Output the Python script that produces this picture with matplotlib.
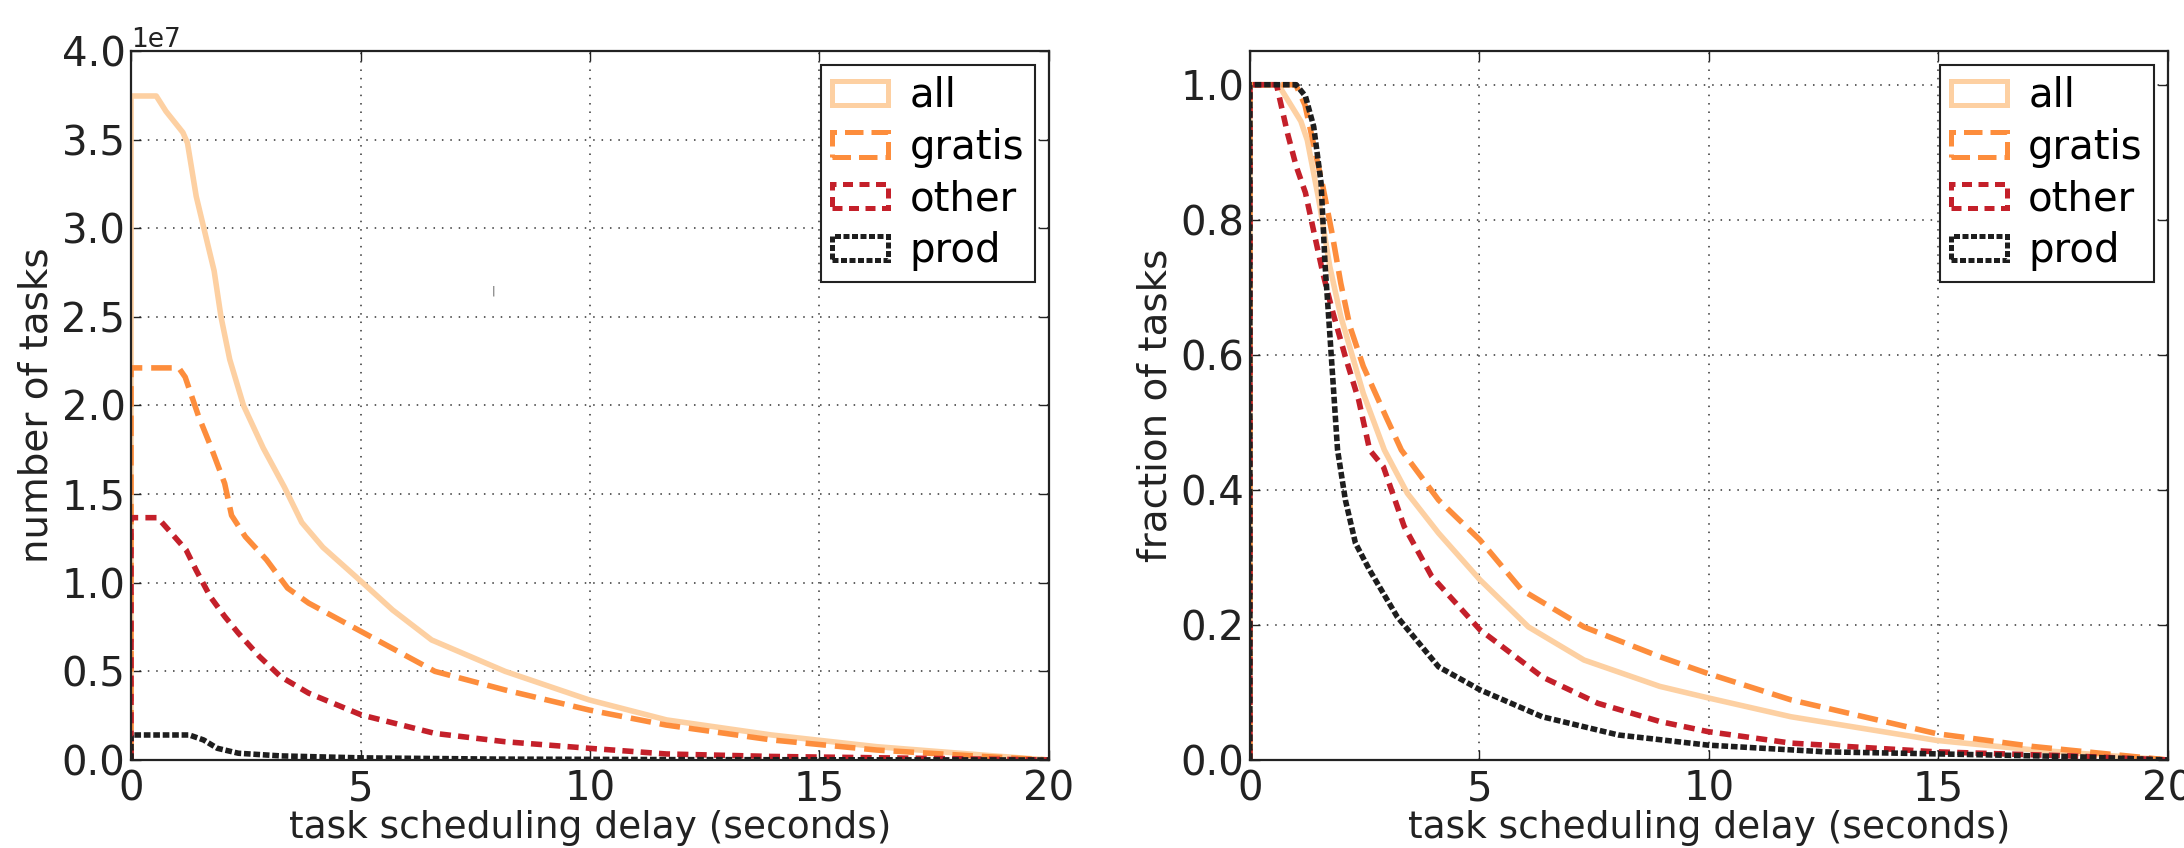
import matplotlib
matplotlib.use("Agg")
import matplotlib.pyplot as plt
from matplotlib.patches import Patch

# series names and styles
names = ["all", "gratis", "other", "prod"]
colors = ["#fdd0a2", "#fd8d3c", "#c4202a", "#1e1e1e"]
dashes = [None, (3.7, 1.6), (2.0, 1.3), (1.2, 0.5)]

# left: number of tasks (x 1e7) vs task scheduling delay (s)
all_x = [0, 0, 0.55, 0.76, 1.13, 1.23, 1.42, 1.67, 1.81, 1.96, 2.15, 2.45, 2.88, 3.34, 3.72,
         4.18, 5.02, 5.70, 6.55, 8.15, 9.98, 11.67, 13.96, 16.25, 18.55, 20]
all_n = [0, 3.746, 3.746, 3.66, 3.54, 3.48, 3.18, 2.91, 2.76, 2.50, 2.26, 2.0, 1.76, 1.54, 1.34,
         1.20, 1.006, 0.846, 0.677, 0.50, 0.339, 0.226, 0.141, 0.075, 0.028, 0]
gratis_x = [0, 0, 1.04, 1.18, 1.47, 1.72, 2.04, 2.19, 2.49, 2.95, 3.41, 3.87, 5.02, 6.62, 8.15,
            9.98, 11.66, 13.96, 16.25, 18.55, 20]
gratis_n = [0, 2.212, 2.212, 2.16, 1.94, 1.78, 1.56, 1.38, 1.26, 1.13, 0.97, 0.885, 0.724, 0.50,
            0.395, 0.282, 0.197, 0.113, 0.056, 0.02, 0]
other_x = [0, 0, 0.58, 0.81, 1.2, 1.42, 1.73, 2.04, 2.34, 2.80, 3.26, 3.87, 5.02, 6.62, 8.15,
           9.98, 11.66, 13.96, 17, 20]
other_n = [0, 1.367, 1.367, 1.30, 1.185, 1.07, 0.92, 0.81, 0.715, 0.583, 0.47, 0.377, 0.254,
           0.15, 0.103, 0.066, 0.034, 0.02, 0.01, 0]
prod_x = [0, 0, 1.27, 1.58, 1.88, 2.34, 3.26, 5.0, 8, 12, 20]
prod_n = [0, 0.141, 0.141, 0.113, 0.066, 0.038, 0.023, 0.012, 0.005, 0.002, 0]

# right: fraction of tasks vs task scheduling delay (s)
all_fx = [0, 0, 0.62, 1.11, 1.25, 1.50, 1.74, 1.98, 2.47, 2.93, 3.43, 4.11, 5.01, 6.07, 7.28,
          8.93, 9.98, 11.79, 14.96, 17.06, 20]
all_f = [0, 1.0, 1.0, 0.946, 0.918, 0.83, 0.731, 0.657, 0.543, 0.459, 0.395, 0.336, 0.267,
         0.197, 0.148, 0.109, 0.092, 0.064, 0.029, 0.015, 0]
gratis_fx = [0, 0, 1.0, 1.2, 1.59, 1.79, 1.98, 2.18, 2.47, 2.96, 3.3, 4.11, 5.01, 5.92, 7.28,
             8.93, 9.98, 11.79, 14.96, 17.06, 20]
gratis_f = [0, 1.0, 1.0, 0.97, 0.849, 0.78, 0.706, 0.642, 0.583, 0.509, 0.459, 0.385, 0.326,
            0.252, 0.197, 0.153, 0.128, 0.089, 0.039, 0.02, 0]
other_fx = [0, 0, 0.58, 0.82, 1.01, 1.21, 1.40, 1.59, 1.79, 2.08, 2.37, 2.61, 2.91, 3.36, 3.96,
            5.01, 6.37, 7.58, 8.93, 9.98, 11.79, 14.96, 17.9, 20]
other_f = [0, 1.0, 1.0, 0.928, 0.879, 0.84, 0.78, 0.721, 0.667, 0.597, 0.533, 0.459, 0.434,
           0.346, 0.272, 0.193, 0.123, 0.084, 0.057, 0.042, 0.025, 0.012, 0.006, 0]
prod_fx = [0, 0, 1.01, 1.21, 1.39, 1.55, 1.64, 1.74, 1.91, 2.08, 2.30, 2.61, 3.21, 4.11, 5.01,
           6.37, 8.03, 9.98, 12.55, 15, 17.9, 20]
prod_f = [0, 1.0, 1.0, 0.983, 0.938, 0.855, 0.731, 0.632, 0.459, 0.385, 0.321, 0.281, 0.212,
          0.138, 0.104, 0.064, 0.037, 0.022, 0.012, 0.009, 0.005, 0]

xticks = [0, 5, 10, 15, 20]
xlabel = "task scheduling delay (seconds)"

plt.rcParams["font.family"] = "DejaVu Sans"

fig = plt.figure(figsize=(21.84, 8.48), dpi=100)
ax1 = fig.add_axes([0.0600, 0.1038, 0.4203, 0.8361])
ax2 = fig.add_axes([0.5723, 0.1038, 0.4203, 0.8361])

left = [(all_x, all_n), (gratis_x, gratis_n), (other_x, other_n), (prod_x, prod_n)]
right = [(all_fx, all_f), (gratis_fx, gratis_f), (other_fx, other_f), (prod_fx, prod_f)]


def draw(ax, series, scale):
    for (x, y), c, d in zip(series, colors, dashes):
        ln, = ax.plot(x, [v * scale for v in y], color=c, lw=4.0, solid_joinstyle="round")
        if d is not None:
            ln.set_dashes(d)
    handles = []
    for c, d, n in zip(colors, dashes, names):
        ls = "-" if d is None else (0, d)
        handles.append(Patch(facecolor="none", edgecolor=c, lw=3.6, linestyle=ls,
                             joinstyle="round", label=n))
    leg = ax.legend(handles=handles, loc="upper right", fontsize=29, fancybox=False,
                    framealpha=1, edgecolor="#222222", borderpad=0.27, labelspacing=0.29,
                    handlelength=1.4, handleheight=0.55, handletextpad=0.52,
                    borderaxespad=0.35)
    leg.get_frame().set_linewidth(1.5)
    ax.set_xlim(0, 20)
    ax.set_xticks(xticks)
    ax.grid(True, color="#333333", lw=1.1, ls=(0, (1, 4.5)))
    ax.tick_params(direction="in", top=True, right=True, length=7, width=1,
                   labelsize=29, pad=7, color="#222222", labelcolor="#222222")
    ax.tick_params(axis="y", pad=4)
    for s in ax.spines.values():
        s.set_linewidth(1.6)
        s.set_color("#222222")
    ax.set_xlabel(xlabel, fontsize=27, color="#222222", labelpad=0)


draw(ax1, left, 1e7)
ax1.set_ylim(0, 4.0e7)
ax1.set_yticks([i * 0.5e7 for i in range(9)])
ax1.yaxis.get_offset_text().set_fontsize(19)
ax1.set_ylabel("number of tasks", fontsize=28, color="#222222", labelpad=4)
ax1.text(7.9, 2.65e7, "|", fontsize=8, color="#555555", ha="center", va="center")

draw(ax2, right, 1.0)
ax2.set_ylim(0, 1.05)
ax2.set_yticks([0.0, 0.2, 0.4, 0.6, 0.8, 1.0])
ax2.set_ylabel("fraction of tasks", fontsize=28, color="#222222", labelpad=4)

fig.savefig("out.png", dpi=100)
